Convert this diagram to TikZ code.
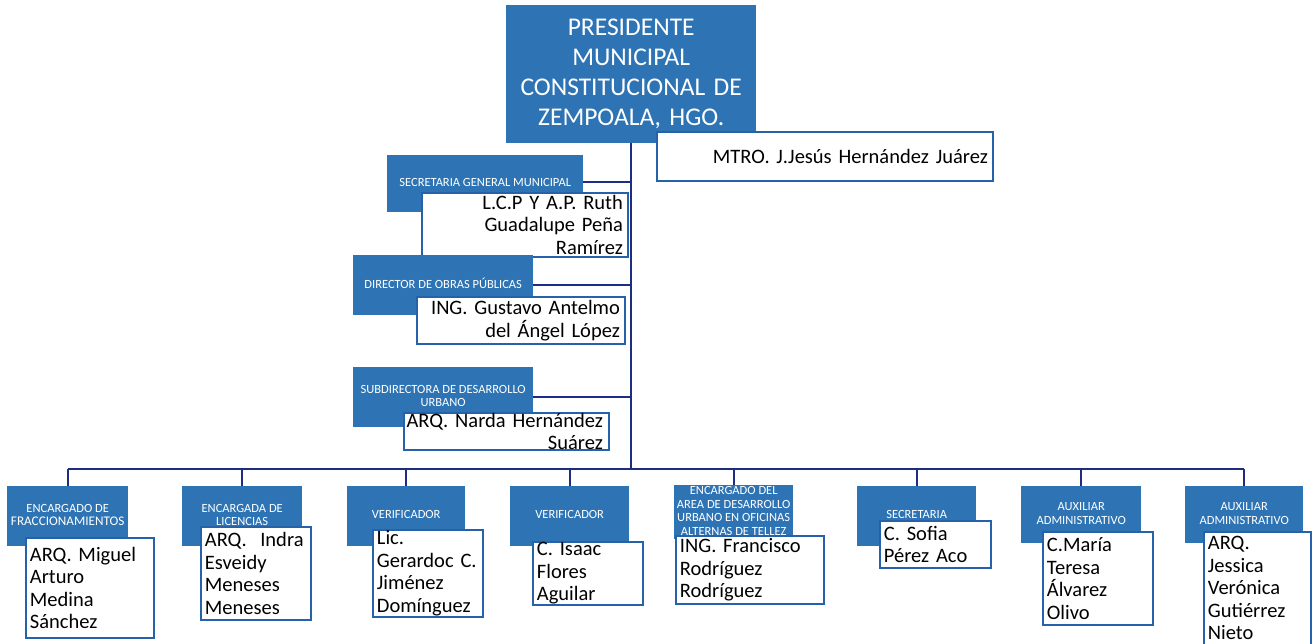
\documentclass[tikz,border=0pt]{standalone}
\usepackage{fontspec}
\setmainfont{Carlito}
\definecolor{bfill}{RGB}{46,116,181}
\definecolor{navy}{RGB}{28,45,130}
\definecolor{wborder}{RGB}{38,98,170}
\newcommand\lbl[2][4.5pt]{\raisebox{#1}{\begin{tabular}{@{}c@{}}#2\end{tabular}}}
\begin{document}
\begin{tikzpicture}[x=1pt,y=-1pt,
  bluebox/.style={fill=bfill, draw=none, text=white, anchor=north west, inner xsep=2pt, inner ysep=0pt, align=center, font=\fontsize{12.5}{13.5}\selectfont},
  namebox/.style={fill=white, draw=wborder, line width=1.8pt, anchor=north west, inner xsep=4pt, inner ysep=0pt, font=\fontsize{20.5}{22.5}\selectfont},
  rbox/.style={namebox, align=right},
  lbox/.style={namebox, align=left},
  conn/.style={draw=navy, line width=2pt}]
\useasboundingbox (0,0) rectangle (1315,643);
\fill[white] (0,0) rectangle (1315,643);

% top
\node[bluebox, minimum width=250, minimum height=138, text width=244, font=\fontsize{25.5}{30}\selectfont] (pres) at (506,5) {PRESIDENTE\\MUNICIPAL\\CONSTITUCIONAL DE\\ZEMPOALA, HGO.};
\node[rbox, minimum width=336, minimum height=49, text width=326] (mtro) at (656,131) {MTRO. J.Jesús Hernández Juárez};

% middle
\node[bluebox, minimum width=196, minimum height=57] (sec) at (387,155) {\lbl{SECRETARIA GENERAL MUNICIPAL}};
\node[rbox, minimum width=206, minimum height=64, text width=196] (secn) at (421,192) {L.C.P Y A.P. Ruth\\Guadalupe Peña\\Ramírez};
\node[bluebox, minimum width=180, minimum height=60] (dir) at (353,255) {\lbl{DIRECTOR DE OBRAS PÚBLICAS}};
\node[rbox, minimum width=208, minimum height=47, text width=198] (dirn) at (416,296) {ING. Gustavo Antelmo\\del Ángel López};
\node[bluebox, minimum width=180, minimum height=60] (sub) at (353,367) {\lbl[2.5pt]{SUBDIRECTORA DE DESARROLLO\\URBANO}};
\node[rbox, minimum width=205, minimum height=34, text width=205, inner xsep=0pt] (subn) at (403,412) {ARQ. Narda Hernández\rule{6pt}{0pt}\\Suárez\rule{6pt}{0pt}};

% bottom row
\node[bluebox, minimum width=121, minimum height=60] (b1) at (7,486) {\lbl{ENCARGADO DE\\\fontsize{13.2}{13.5}\selectfont FRACCIONAMIENTOS}};
\node[lbox, minimum width=128, minimum height=100, text width=120] (w1) at (25,537) {ARQ. Miguel\\Arturo\\Medina\\Sánchez};
\node[bluebox, minimum width=120, minimum height=60] (b2) at (182,486) {\lbl{ENCARGADA DE\\LICENCIAS}};
\node[lbox, minimum width=110, minimum height=93, text width=102] (w2) at (200,526) {ARQ.\ \ Indra\\Esveidy\\Meneses\\Meneses};
\node[bluebox, minimum width=118, minimum height=60] (b3) at (347,486) {\lbl{VERIFICADOR}};
\node[lbox, minimum width=110, minimum height=87, text width=102] (w3) at (372,529) {Lic.\\Gerardoc C.\\Jiménez\\Domínguez};
\node[bluebox, minimum width=119, minimum height=60] (b4) at (510,486) {\lbl{VERIFICADOR}};
\node[lbox, minimum width=110, minimum height=63, text width=102] (w4) at (532,541) {C. Isaac\\Flores\\Aguilar};
\node[bluebox, minimum width=119, minimum height=50, inner xsep=1pt] (b5) at (674,485) {\lbl[0pt]{ENCARGADO DEL\\AREA DE DESARROLLO\\URBANO EN OFICINAS\\ALTERNAS DE TELLEZ}};
\node[lbox, minimum width=148, minimum height=68, text width=140] (w5) at (675,535) {ING. Francisco\\Rodríguez\\Rodríguez};
\node[bluebox, minimum width=119, minimum height=60] (b6) at (857,486) {\lbl{SECRETARIA}};
\node[lbox, minimum width=111, minimum height=47, text width=103] (w6) at (879,520) {C. Sofia\\Pérez Aco};
\node[bluebox, minimum width=120, minimum height=57] (b7) at (1021,486) {\lbl[3.5pt]{AUXILIAR\\ADMINISTRATIVO}};
\node[lbox, minimum width=110, minimum height=93, text width=102] (w7) at (1042,531) {C.María\\Teresa\\Álvarez\\Olivo};
\node[bluebox, minimum width=118, minimum height=57] (b8) at (1185,486) {\lbl[3.5pt]{AUXILIAR\\ADMINISTRATIVO}};
\node[lbox, minimum width=107, minimum height=113, text width=99] (w8) at (1203,531) {ARQ.\\Jessica\\Verónica\\Gutiérrez\\Nieto};

% connectors
\coordinate (bus) at (631,469);
\draw[conn] (pres.south) -- (pres.south |- bus);
\draw[conn] (sec.east) ++(0,-1.5) coordinate (sece) -- (sece -| pres.south);
\draw[conn] (dir.east) -- (dir.east -| pres.south);
\draw[conn] (sub.east) -- (sub.east -| pres.south);
\draw[conn] (b1.north |- bus) -- (b8.north |- bus);
\foreach \n in {b1,b2,b3,b4,b5,b6,b7,b8}
  \draw[conn] (\n.north) -- (\n.north |- bus);
\end{tikzpicture}
\end{document}
